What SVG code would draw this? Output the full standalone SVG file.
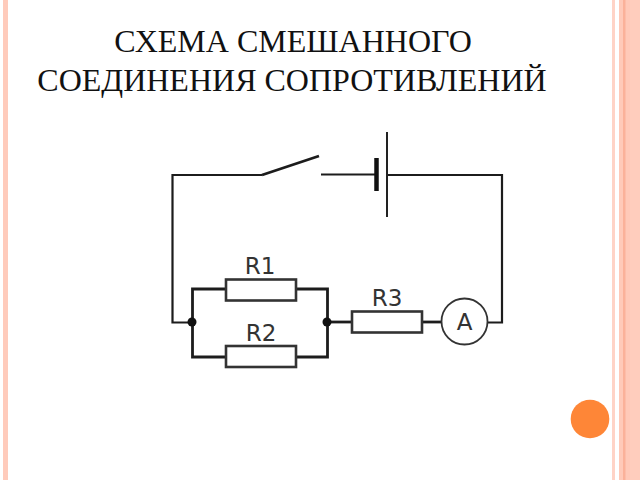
<svg xmlns="http://www.w3.org/2000/svg" width="640" height="480" viewBox="0 0 640 480">
<style>
.w{fill:none;stroke:#1c1c1c;stroke-width:2.200}
.t{fill:none;stroke:#1c1c1c;stroke-width:2.800}
.r{fill:#fff;stroke:#333;stroke-width:2.600}
.l{font-family:"DejaVu Sans",sans-serif;font-size:23px;fill:#333;text-anchor:middle}
.h{font-family:"Liberation Serif",serif;font-size:32px;fill:#111;text-anchor:middle}
</style>
<rect width="640" height="480" fill="#fff"/>
<g id="frame">
<rect x="3" y="0" width="5" height="480" fill="#ffcbbb"/>
<rect x="612" y="0" width="3" height="480" fill="#ffd3c6"/>
<rect x="619" y="0" width="21" height="480" fill="#ffc9b8"/>
<rect x="623" y="0" width="2.500" height="480" fill="#fbb199"/>
<rect x="630" y="0" width="10" height="480" fill="#ffcdbd"/>
</g>
<g id="title">
<text class="h" x="293" y="52">СХЕМА СМЕШАННОГО</text>
<text class="h" x="292" y="91">СОЕДИНЕНИЯ СОПРОТИВЛЕНИЙ</text>
</g>
<g id="connectors">
<path class="w" d="M192 322.500H172.500V175H262"/>
<path d="M262 175L319 156" fill="none" stroke="#1c1c1c" stroke-width="2.800"/>
<path class="w" d="M321 174.500H376"/>
<path class="w" d="M387 175H502V322.500H488"/>
<path class="t" d="M226 289H192.500V357H226"/>
<path class="t" d="M296 289H327.500V357H296"/>
<path class="t" d="M327 322H352"/>
<path class="t" d="M422 322H442"/>
</g>
<g id="battery">
<line x1="387" y1="132" x2="387" y2="217" stroke="#222" stroke-width="2"/>
<line x1="376.500" y1="158" x2="376.500" y2="191" stroke="#111" stroke-width="4.500"/>
</g>
<g id="R1"><rect class="r" x="226" y="279.500" width="70" height="21"/><text class="l" x="260" y="274">R1</text></g>
<g id="R2"><rect class="r" x="226" y="346" width="70" height="21"/><text class="l" x="261" y="341">R2</text></g>
<g id="R3"><rect class="r" x="352" y="311.500" width="70" height="21"/><text class="l" x="387" y="306">R3</text></g>
<g id="ammeter"><circle cx="464.500" cy="321.500" r="23" fill="#fff" stroke="#333" stroke-width="1.800"/><text class="l" x="464.500" y="329.500">A</text></g>
<g id="junctions"><circle cx="192" cy="322" r="4.500" fill="#111"/><circle cx="327" cy="322" r="4.500" fill="#111"/></g>
<circle id="dot" cx="590" cy="419" r="19.300" fill="#fe8637"/>
</svg>
